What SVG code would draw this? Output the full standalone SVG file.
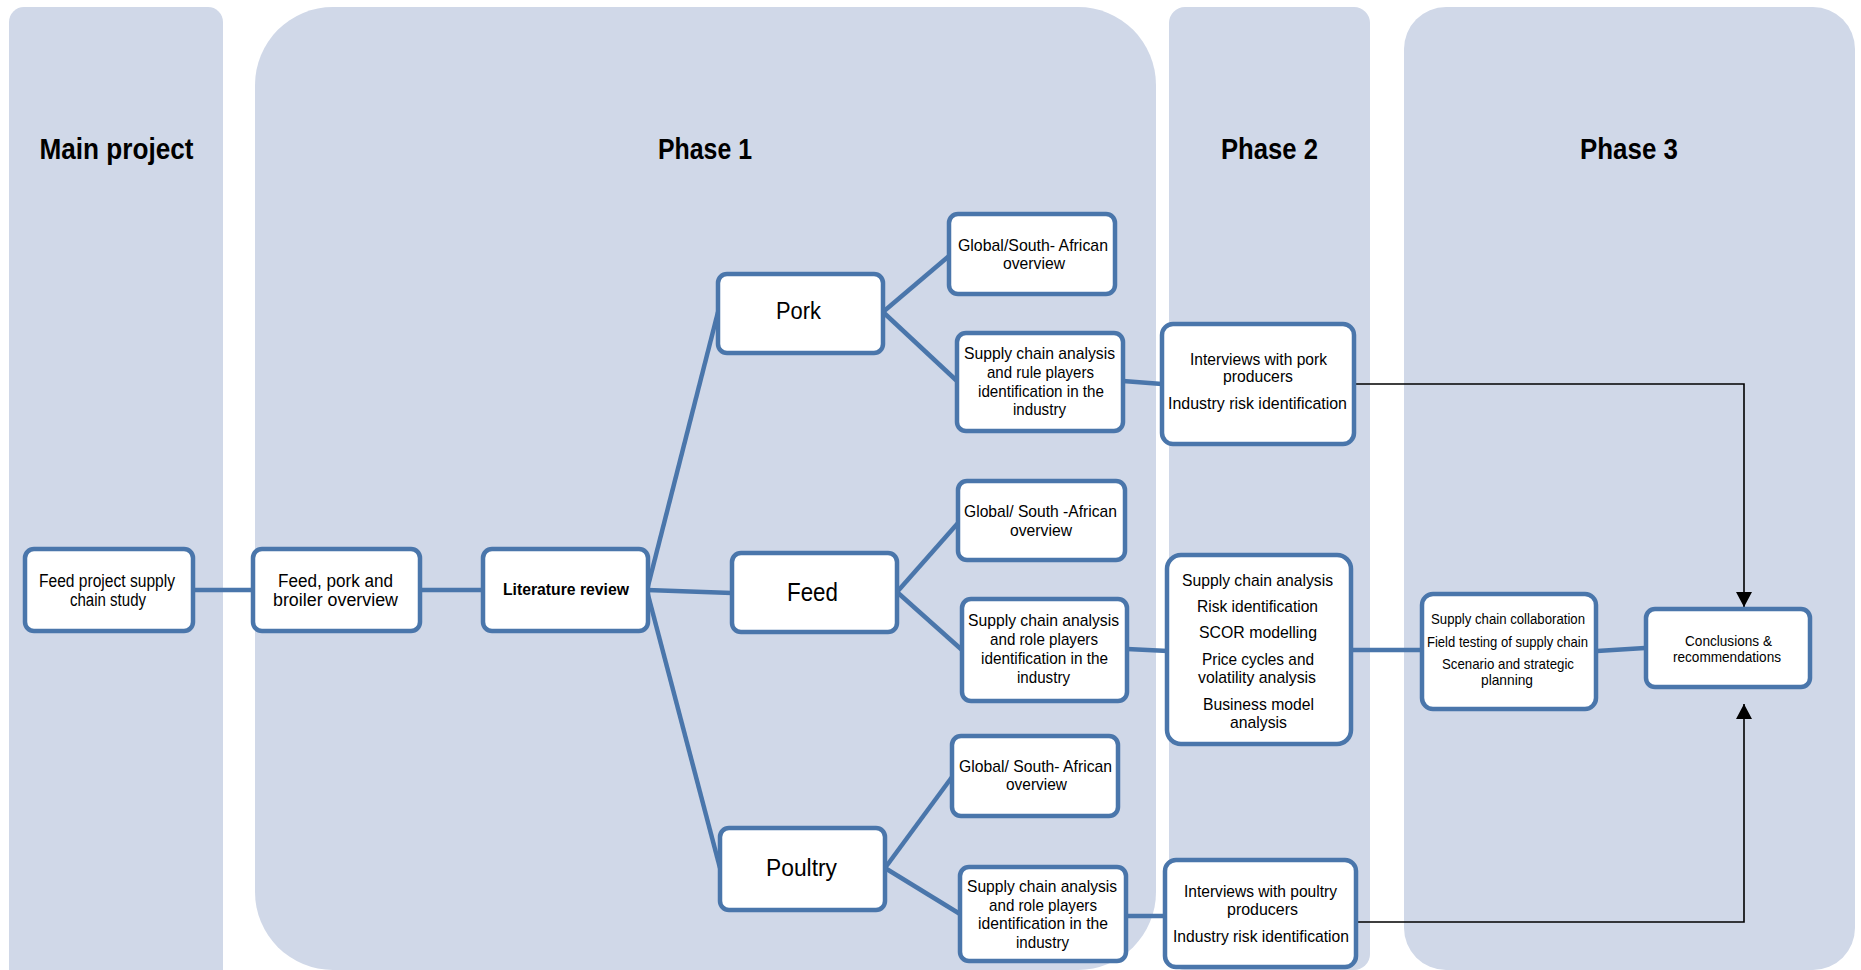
<svg xmlns="http://www.w3.org/2000/svg" width="1861" height="970" viewBox="0 0 1861 970">
  <style>
    .panel { fill: #d0d8e8; }
    .node rect { fill: #ffffff; stroke: #4a76ab; stroke-width: 4.5; }
    .link { fill: none; stroke: #4a76ab; stroke-width: 4.5; stroke-linecap: butt; }
    .flow { fill: none; stroke: #000000; stroke-width: 1.6; }
    text { font-family: "Liberation Sans", Arial, sans-serif; fill: #000000; text-anchor: middle; }
    .head { font-size: 29px; font-weight: bold; }
    .t17 { font-size: 17px; }
    .t18 { font-size: 18px; }
    .t15 { font-size: 15px; }
    .t14 { font-size: 14px; }
    .big { font-size: 24px; }
    .bold { font-weight: bold; }
  </style>
  <defs>
    <marker id="arrow" markerUnits="userSpaceOnUse" markerWidth="16" markerHeight="16" refX="15" refY="8" orient="auto">
      <path d="M0,0 L15,8 L0,16 Z" fill="#000000"/>
    </marker>
  </defs>

  <!-- swim-lane backgrounds -->
  <g id="lanes">
    <rect class="panel" x="9" y="7" width="214" height="985" rx="15"/>
    <rect class="panel" x="255" y="7" width="901" height="963" rx="78"/>
    <rect class="panel" x="1169" y="7" width="201" height="963" rx="16"/>
    <rect class="panel" x="1404" y="7" width="451" height="963" rx="42"/>
    <text class="head" x="116.5" y="159" textLength="154" lengthAdjust="spacingAndGlyphs">Main project</text>
    <text class="head" x="705" y="159" textLength="94" lengthAdjust="spacingAndGlyphs">Phase 1</text>
    <text class="head" x="1269.5" y="159" textLength="97" lengthAdjust="spacingAndGlyphs">Phase 2</text>
    <text class="head" x="1629" y="159" textLength="98" lengthAdjust="spacingAndGlyphs">Phase 3</text>
  </g>

  <!-- connectors -->
  <g id="connectors">
    <path class="link" d="M193,590 L253,590"/>
    <path class="link" d="M420,590 L483,590"/>
    <path class="link" d="M647,590 L718,312"/>
    <path class="link" d="M647,590 L732,593"/>
    <path class="link" d="M647,591 L720,868"/>
    <path class="link" d="M883,312 L949,256"/>
    <path class="link" d="M883,312 L957,381"/>
    <path class="link" d="M1123,381 L1162,384"/>
    <path class="link" d="M897,592 L958,523"/>
    <path class="link" d="M897,592 L962,650"/>
    <path class="link" d="M1127,649 L1168,651"/>
    <path class="link" d="M1350,650 L1422,650"/>
    <path class="link" d="M1597,651 L1645,648"/>
    <path class="link" d="M885,868 L952,777"/>
    <path class="link" d="M885,868 L960,914"/>
    <path class="link" d="M1126,916 L1164,916"/>
    <path class="flow" d="M1354,384 L1744,384 L1744,607" marker-end="url(#arrow)"/>
    <path class="flow" d="M1356,922 L1744,922 L1744,704" marker-end="url(#arrow)"/>
  </g>

  <!-- main project -->
  <g id="feed-project" class="node">
    <rect x="25" y="549" width="168" height="82" rx="9"/>
    <text class="t18" x="107" y="587" textLength="136" lengthAdjust="spacingAndGlyphs">Feed project supply</text>
    <text class="t18" x="108" y="606" textLength="76" lengthAdjust="spacingAndGlyphs">chain study</text>
  </g>

  <!-- phase 1 -->
  <g id="overview" class="node">
    <rect x="253" y="549" width="167" height="82" rx="9"/>
    <text class="t18" x="335.5" y="587" textLength="115" lengthAdjust="spacingAndGlyphs">Feed, pork and</text>
    <text class="t18" x="335.5" y="606" textLength="125" lengthAdjust="spacingAndGlyphs">broiler overview</text>
  </g>

  <g id="literature-review" class="node">
    <rect x="483" y="549" width="165" height="82" rx="9"/>
    <text class="t17 bold" x="566" y="595" textLength="126" lengthAdjust="spacingAndGlyphs">Literature review</text>
  </g>

  <g id="pork" class="node">
    <rect x="718" y="274" width="165" height="79" rx="9"/>
    <text class="big" style="font-size:23px" x="798.5" y="319" textLength="45" lengthAdjust="spacingAndGlyphs">Pork</text>
  </g>

  <g id="feed" class="node">
    <rect x="732" y="553" width="165" height="79" rx="9"/>
    <text class="big" style="font-size:25px" x="812.5" y="601" textLength="51" lengthAdjust="spacingAndGlyphs">Feed</text>
  </g>

  <g id="poultry" class="node">
    <rect x="720" y="828" width="165" height="82" rx="9"/>
    <text class="big" style="font-size:23px" x="801.5" y="876" textLength="71" lengthAdjust="spacingAndGlyphs">Poultry</text>
  </g>

  <g id="pork-overview" class="node">
    <rect x="949" y="214" width="166" height="80" rx="9"/>
    <text class="t17" x="1033" y="251" textLength="150" lengthAdjust="spacingAndGlyphs">Global/South- African</text>
    <text class="t17" x="1034" y="269" textLength="62" lengthAdjust="spacingAndGlyphs">overview</text>
  </g>

  <g id="pork-supply-chain" class="node">
    <rect x="957" y="333" width="166" height="98" rx="9"/>
    <text class="t17" x="1039.5" y="359" textLength="151" lengthAdjust="spacingAndGlyphs">Supply chain analysis</text>
    <text class="t17" x="1040.5" y="378" textLength="107" lengthAdjust="spacingAndGlyphs">and rule players</text>
    <text class="t17" x="1041" y="397" textLength="126" lengthAdjust="spacingAndGlyphs">identification in the</text>
    <text class="t17" x="1039.5" y="415" textLength="53" lengthAdjust="spacingAndGlyphs">industry</text>
  </g>

  <g id="feed-overview" class="node">
    <rect x="958" y="481" width="167" height="79" rx="9"/>
    <text class="t17" x="1040.5" y="517" textLength="153" lengthAdjust="spacingAndGlyphs">Global/ South -African</text>
    <text class="t17" x="1041" y="536" textLength="62" lengthAdjust="spacingAndGlyphs">overview</text>
  </g>

  <g id="feed-supply-chain" class="node">
    <rect x="962" y="599" width="165" height="102" rx="9"/>
    <text class="t17" x="1043.5" y="626" textLength="151" lengthAdjust="spacingAndGlyphs">Supply chain analysis</text>
    <text class="t17" x="1044" y="645" textLength="108" lengthAdjust="spacingAndGlyphs">and role players</text>
    <text class="t17" x="1044.5" y="664" textLength="127" lengthAdjust="spacingAndGlyphs">identification in the</text>
    <text class="t17" x="1043.5" y="683" textLength="53" lengthAdjust="spacingAndGlyphs">industry</text>
  </g>

  <g id="poultry-overview" class="node">
    <rect x="952" y="736" width="166" height="80" rx="9"/>
    <text class="t17" x="1035.5" y="772" textLength="153" lengthAdjust="spacingAndGlyphs">Global/ South- African</text>
    <text class="t17" x="1036.5" y="790" textLength="61" lengthAdjust="spacingAndGlyphs">overview</text>
  </g>

  <g id="poultry-supply-chain" class="node">
    <rect x="960" y="867" width="166" height="94" rx="9"/>
    <text class="t17" x="1042" y="892" textLength="150" lengthAdjust="spacingAndGlyphs">Supply chain analysis</text>
    <text class="t17" x="1043" y="911" textLength="108" lengthAdjust="spacingAndGlyphs">and role players</text>
    <text class="t17" x="1043" y="929" textLength="130" lengthAdjust="spacingAndGlyphs">identification in the</text>
    <text class="t17" x="1042.5" y="948" textLength="53" lengthAdjust="spacingAndGlyphs">industry</text>
  </g>

  <!-- phase 2 -->
  <g id="pork-interviews" class="node">
    <rect x="1162" y="324" width="192" height="120" rx="11"/>
    <text class="t17" x="1258.5" y="365" textLength="137" lengthAdjust="spacingAndGlyphs">Interviews with pork</text>
    <text class="t17" x="1258" y="382" textLength="70" lengthAdjust="spacingAndGlyphs">producers</text>
    <text class="t17" x="1257.5" y="409" textLength="179" lengthAdjust="spacingAndGlyphs">Industry risk identification</text>
  </g>

  <g id="feed-analysis" class="node">
    <rect x="1167" y="555" width="184" height="189" rx="14"/>
    <text class="t17" x="1257.5" y="586" textLength="151" lengthAdjust="spacingAndGlyphs">Supply chain analysis</text>
    <text class="t17" x="1257.5" y="612" textLength="121" lengthAdjust="spacingAndGlyphs">Risk identification</text>
    <text class="t17" x="1258" y="638" textLength="118" lengthAdjust="spacingAndGlyphs">SCOR modelling</text>
    <text class="t17" x="1258" y="665" textLength="112" lengthAdjust="spacingAndGlyphs">Price cycles and</text>
    <text class="t17" x="1257" y="683" textLength="118" lengthAdjust="spacingAndGlyphs">volatility analysis</text>
    <text class="t17" x="1258.5" y="710" textLength="111" lengthAdjust="spacingAndGlyphs">Business model</text>
    <text class="t17" x="1258.5" y="728" textLength="57" lengthAdjust="spacingAndGlyphs">analysis</text>
  </g>

  <g id="poultry-interviews" class="node">
    <rect x="1165" y="860" width="191" height="107" rx="11"/>
    <text class="t17" x="1260.5" y="897" textLength="153" lengthAdjust="spacingAndGlyphs">Interviews with poultry</text>
    <text class="t17" x="1262.5" y="915" textLength="71" lengthAdjust="spacingAndGlyphs">producers</text>
    <text class="t17" x="1261" y="942" textLength="176" lengthAdjust="spacingAndGlyphs">Industry risk identification</text>
  </g>

  <!-- phase 3 -->
  <g id="field-work" class="node">
    <rect x="1422" y="594" width="174" height="115" rx="11"/>
    <text class="t14" x="1508" y="624" textLength="154" lengthAdjust="spacingAndGlyphs">Supply chain collaboration</text>
    <text class="t15" x="1507.5" y="647" textLength="161" lengthAdjust="spacingAndGlyphs">Field testing of supply chain</text>
    <text class="t15" x="1508" y="669" textLength="132" lengthAdjust="spacingAndGlyphs">Scenario and strategic</text>
    <text class="t15" x="1507" y="685" textLength="52" lengthAdjust="spacingAndGlyphs">planning</text>
  </g>

  <g id="conclusions" class="node">
    <rect x="1646" y="609" width="164" height="78" rx="9"/>
    <text class="t15" x="1728.5" y="646" textLength="87" lengthAdjust="spacingAndGlyphs">Conclusions &amp;</text>
    <text class="t15" x="1727" y="662" textLength="108" lengthAdjust="spacingAndGlyphs">recommendations</text>
  </g>
</svg>
